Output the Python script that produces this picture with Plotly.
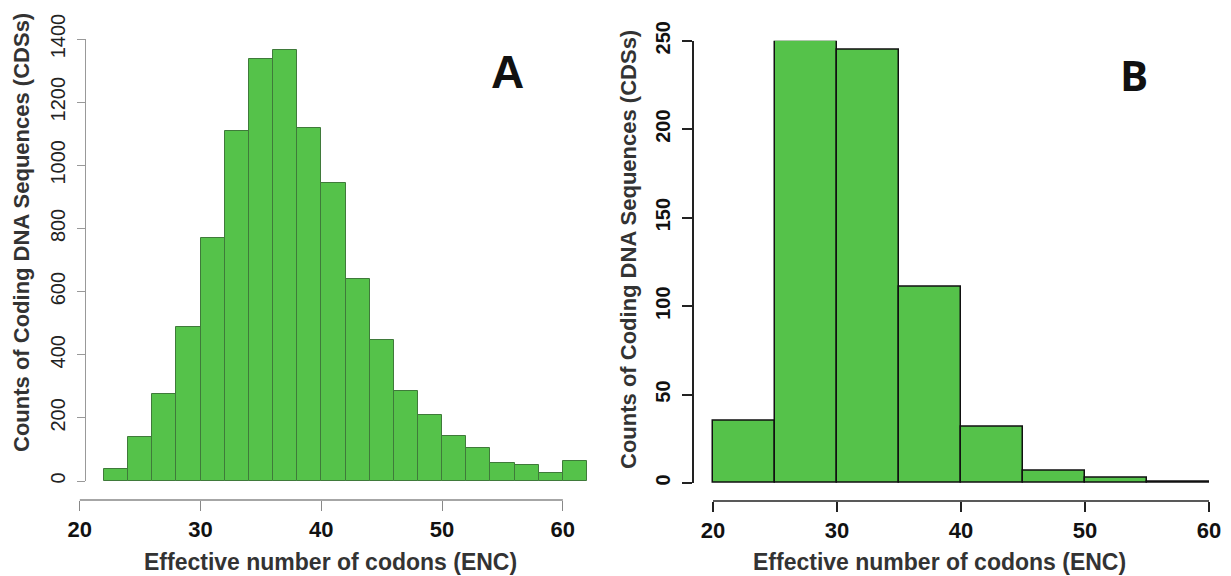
import plotly.graph_objects as go

# ---- data ----
left_edges = [22, 24, 26, 28, 30, 32, 34, 36, 38, 40, 42, 44, 46, 48, 50, 52, 54, 56, 58, 60, 62]
left_counts = [37, 140, 277, 488, 770, 1110, 1338, 1365, 1117, 943, 641, 447, 285, 209, 141, 105, 57, 50, 24, 63]
right_edges = [20, 25, 30, 35, 40, 45, 50, 55, 60]
right_counts = [35, 250, 245, 111, 32, 7, 3, 1]
x_ticks = [20, 30, 40, 50, 60]
left_y_ticks = [0, 200, 400, 600, 800, 1000, 1200, 1400]
right_y_ticks = [0, 50, 100, 150, 200, 250]
y_title = "Counts of Coding DNA Sequences (CDSs)"
x_title = "Effective number of codons (ENC)"

W, H = 1231, 576
OFF = 8  # page body margin
def px(x):
    return (x - OFF) / W
def py(y):
    return 1 - (y - OFF) / H

def centers(edges):
    return [(a + b) / 2 for a, b in zip(edges[:-1], edges[1:])]
def widths(edges):
    return [b - a for a, b in zip(edges[:-1], edges[1:])]

GREEN = "#55c24a"
FONT = "Liberation Sans, Arial, sans-serif"

fig = go.Figure()
fig.add_trace(go.Bar(x=centers(left_edges), y=left_counts, width=widths(left_edges),
                     marker=dict(color=GREEN, line=dict(color="#3f7a3a", width=1)),
                     xaxis="x", yaxis="y", showlegend=False))
fig.add_trace(go.Bar(x=centers(right_edges), y=right_counts, width=widths(right_edges),
                     marker=dict(color=GREEN, line=dict(color="#111111", width=1.5)),
                     xaxis="x2", yaxis="y2", showlegend=False))

# panel geometry (pixel based)
lx0, lx1 = 70, 600
l_scale = (587 - 104) / (62 - 22)
l_range = [22 - (104 - lx0) / l_scale, 62 + (lx1 - 587) / l_scale]
rx0, rx1 = 698, 1224
r_scale = (1209 - 713) / (60 - 20)
r_range = [20 - (713 - rx0) / r_scale, 60 + (rx1 - 1209) / r_scale]

fig.update_layout(
    template="none",
    width=W, height=H,
    margin=dict(l=0, r=0, t=0, b=0, autoexpand=False),
    paper_bgcolor="white", plot_bgcolor="white",
    bargap=0,
    xaxis=dict(domain=[px(lx0), px(lx1)], range=l_range, anchor="free", position=py(500),
               automargin=False, showline=False, showgrid=False, zeroline=False,
               tickvals=x_ticks, ticks="outside", ticklen=10, tickcolor="#888888", tickwidth=1.3,
               tickfont=dict(family=FONT, size=22, color="#111111", weight="bold")),
    yaxis=dict(domain=[py(481), py(39)], range=[0, 1400], anchor="free", position=px(85),
               automargin=False, showline=True, linecolor="#999999", linewidth=1.3,
               showgrid=False, zeroline=False,
               tickvals=left_y_ticks, ticks="outside", ticklen=8, tickcolor="#999999", tickwidth=1.3,
               tickangle=-90, ticklabelstandoff=4,
               tickfont=dict(family=FONT, size=20, color="#222222")),
    xaxis2=dict(domain=[px(rx0), px(rx1)], range=r_range, anchor="free", position=py(501),
                automargin=False, showline=False, showgrid=False, zeroline=False,
                tickvals=x_ticks, ticks="outside", ticklen=10, tickcolor="#222222", tickwidth=1.5,
                tickfont=dict(family=FONT, size=22, color="#111111", weight="bold")),
    yaxis2=dict(domain=[py(483), py(40.7)], range=[0, 250], anchor="free", position=px(693),
                automargin=False, showline=True, linecolor="#222222", linewidth=1.5,
                showgrid=False, zeroline=False,
                tickvals=right_y_ticks, ticks="outside", ticklen=10, tickcolor="#222222", tickwidth=1.5,
                tickangle=-90, ticklabelstandoff=4,
                tickfont=dict(family=FONT, size=20, color="#111111", weight="bold")),
)

# R-style x axis lines spanning first to last tick
fig.add_shape(type="line", xref="x", yref="paper", x0=x_ticks[0], x1=x_ticks[-1],
              y0=py(500), y1=py(500), line=dict(color="#888888", width=1.3))
fig.add_shape(type="line", xref="x2", yref="paper", x0=x_ticks[0], x1=x_ticks[-1],
              y0=py(501), y1=py(501), line=dict(color="#222222", width=1.5))

title_font = dict(family=FONT, size=23, color="#333333", weight="bold")
ytitle_font = dict(family=FONT, size=22, color="#333333", weight="bold")
fig.add_annotation(text=y_title, x=px(21), y=py(233), xref="paper", yref="paper",
                   textangle=-90, showarrow=False, font=ytitle_font, xanchor="center", yanchor="middle")
fig.add_annotation(text=y_title, x=px(629), y=py(250), xref="paper", yref="paper",
                   textangle=-90, showarrow=False, font=ytitle_font, xanchor="center", yanchor="middle")
fig.add_annotation(text=x_title, x=px(330), y=py(562), xref="paper", yref="paper",
                   showarrow=False, font=title_font, xanchor="center", yanchor="middle")
fig.add_annotation(text=x_title, x=px(939), y=py(562), xref="paper", yref="paper",
                   showarrow=False, font=title_font, xanchor="center", yanchor="middle")

fig.add_annotation(text="A", x=px(508), y=py(72), xref="paper", yref="paper", showarrow=False,
                   xanchor="center", yanchor="middle",
                   font=dict(family=FONT, size=46, color="#111111", weight="bold"))
fig.add_annotation(text="B", x=px(1134), y=py(74), xref="paper", yref="paper", showarrow=False,
                   xanchor="center", yanchor="middle",
                   font=dict(family="Open Sans, Lato, sans-serif", size=42, color="#111111", weight="bold"))

fig.write_html("out.html")
